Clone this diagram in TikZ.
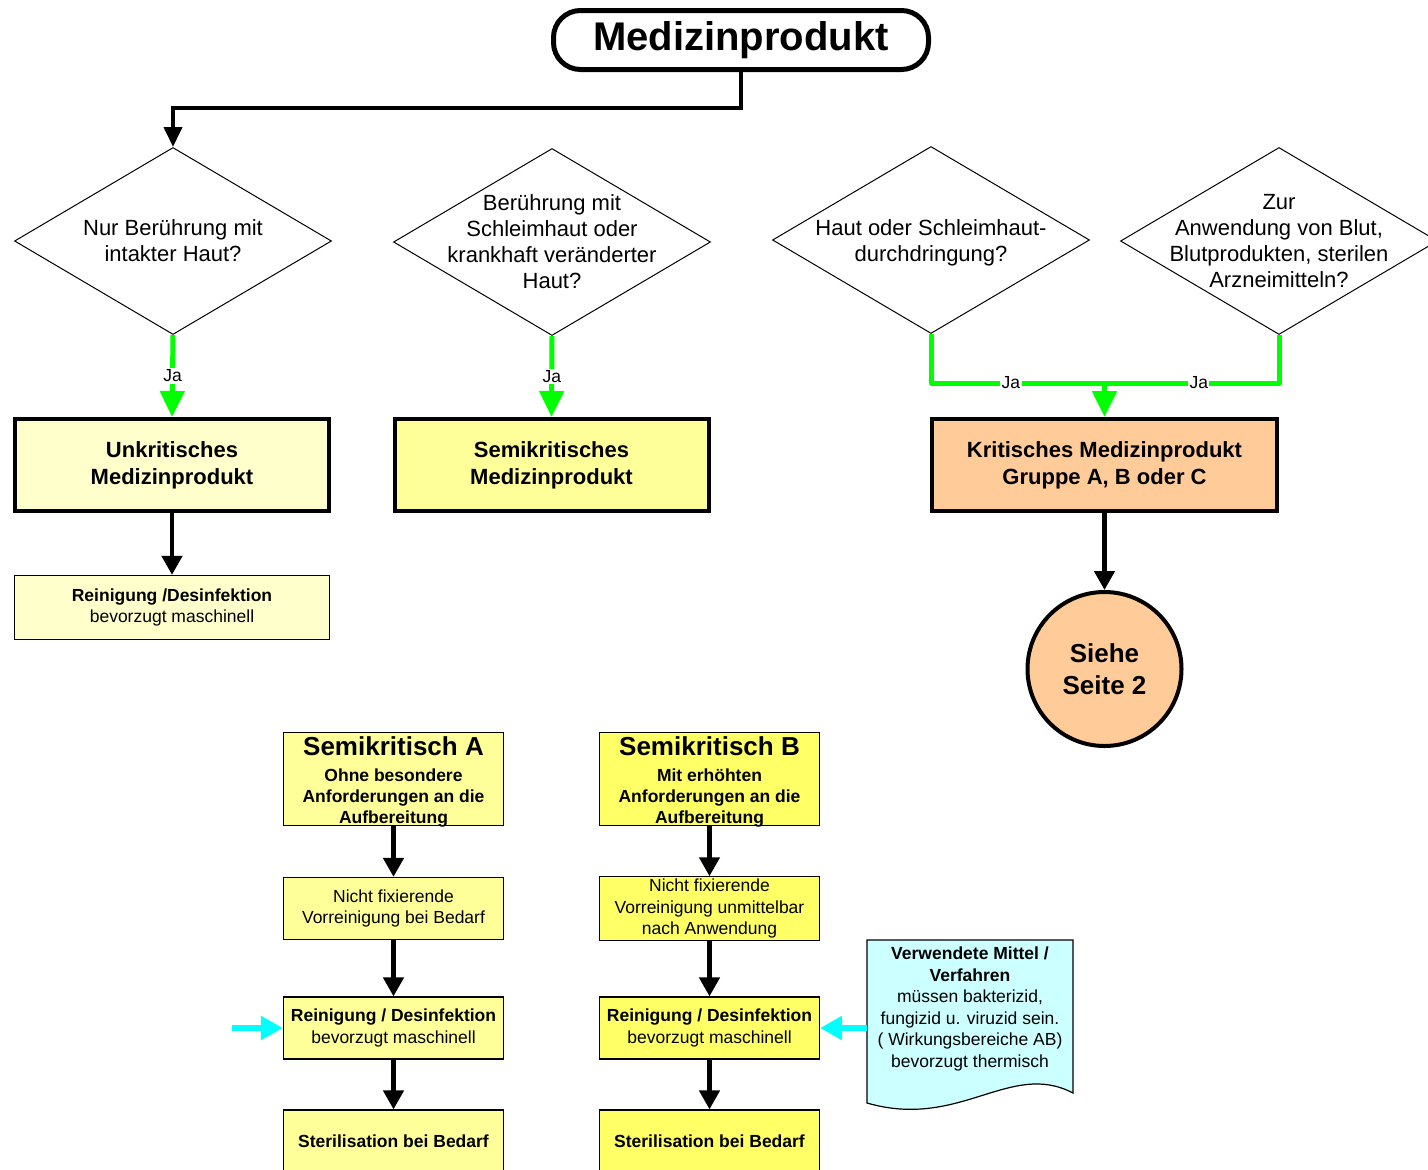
\documentclass[tikz,border=0pt]{standalone}
\usepackage{fontspec}
\setmainfont{Liberation Sans}
\usepackage{tikz}
\definecolor{jagruen}{HTML}{00FF00}
\definecolor{hellblau}{HTML}{00FFFF}
\definecolor{gelb100}{HTML}{FFFFCC}
\definecolor{gelb200}{HTML}{FFFF99}
\definecolor{gelb300}{HTML}{FFFF66}
\definecolor{orange100}{HTML}{FFCC99}
\definecolor{cyan100}{HTML}{CCFFFF}
\usetikzlibrary{arrows.meta,shapes.geometric}
\tikzstyle{frage}=[diamond, draw=black, line width=1pt, minimum width=317pt, minimum height=187pt, inner sep=0pt]
\tikzstyle{fragetext}=[align=center, inner sep=0pt, font=\fontsize{22}{26}\selectfont]
\tikzstyle{klasse}=[rectangle, draw=black, line width=4pt, minimum width=314pt, minimum height=92pt, align=center, font=\bfseries\fontsize{22}{27}\selectfont]
\tikzstyle{schritt}=[rectangle, draw=black, line width=1.2pt, minimum width=220pt, minimum height=62pt, inner sep=2pt, align=center, font=\fontsize{17.5}{21.5}\selectfont]
\tikzstyle{pfeil}=[draw=black, line width=4.5pt, -{Triangle[width=20pt,length=19pt]}]
\tikzstyle{jalinie}=[draw=jagruen, line width=5pt, line join=round]
\tikzstyle{japfeil}=[jalinie, -{Triangle[width=24pt,length=26pt]}]
\tikzstyle{zupfeil}=[draw=hellblau, line width=6pt, -{Triangle[width=23pt,length=22pt]}]
\tikzstyle{ja}=[fill=white, inner sep=1.5pt, font=\fontsize{17.5}{17.5}\selectfont]

\begin{document}
\begin{tikzpicture}[x=1pt, y=-1pt]
			\useasboundingbox[fill=white] (0,0) rectangle (1428,1170);
			\node[rectangle, rounded corners=27pt, draw=black, line width=5pt, fill=white, minimum width=375pt, minimum height=59pt, font=\bfseries\fontsize{40}{40}\selectfont] (titel) at (741,40) {Medizinprodukt};
			\node[frage] (d1) at (173,241) {};
			\node[frage] (d2) at (552,242) {};
			\node[frage] (d3) at (931,240) {};
			\node[frage] (d4) at (1279,241) {};
			\node[fragetext] (d1text) at (d1) {Nur Berührung mit\\intakter Haut?};
			\node[fragetext] (d2text) at (d2) {Berührung mit\\Schleimhaut oder\\krankhaft veränderter\\Haut?};
			\node[fragetext, yshift=-3pt] (d3text) at (d3) {Haut oder Schleimhaut-\\durchdringung?};
			\node[fragetext] (d4text) at (d4) {Zur\\Anwendung von Blut,\\Blutprodukten, sterilen\\Arzneimitteln?};
			\node[klasse, fill=gelb100] (unkrit) at (172,465) {Unkritisches\\Medizinprodukt};
			\node[klasse, fill=gelb200] (semi) at (551.5,465) {Semikritisches\\Medizinprodukt};
			\node[klasse, fill=orange100, minimum width=345pt] (krit) at (1104.5,465) {Kritisches Medizinprodukt\\Gruppe A, B oder C};
			\node[schritt, fill=gelb100, minimum width=315pt, minimum height=64pt] (rein1) at (172,607.5) {\textbf{Reinigung /Desinfektion}\\bevorzugt maschinell};
			\node[circle, draw=black, line width=4pt, fill=orange100, minimum size=154pt, align=center, font=\bfseries\fontsize{26}{32}\selectfont] (seite2) at (1104.5,669) {Siehe\\Seite 2};
			\node[schritt, fill=gelb200, minimum height=93pt, font=\bfseries\fontsize{17.5}{21}\selectfont] (semiA) at (393.5,779) {};
			\node[schritt, fill=gelb300, minimum height=93pt, font=\bfseries\fontsize{17.5}{21}\selectfont] (semiB) at (709.5,779) {};
			\node[align=center, inner sep=0pt, yshift=-3pt, font=\bfseries\fontsize{17.5}{21}\selectfont] (semiAtext) at (semiA) {{\fontsize{26}{26}\selectfont Semikritisch A}\\[5pt]Ohne besondere\\Anforderungen an die\\Aufbereitung};
			\node[align=center, inner sep=0pt, yshift=-3pt, font=\bfseries\fontsize{17.5}{21}\selectfont] (semiBtext) at (semiB) {{\fontsize{26}{26}\selectfont Semikritisch B}\\[5pt]Mit erhöhten\\Anforderungen an die\\Aufbereitung};
			\node[schritt, fill=gelb200] (vorA) at (393.5,908.5) {Nicht fixierende\\Vorreinigung bei Bedarf};
			\node[schritt, fill=gelb300] (vorB) at (709.5,908.5) {Nicht fixierende\\Vorreinigung unmittelbar\\nach Anwendung};
			\node[schritt, fill=gelb200] (reinA) at (393.5,1028) {\textbf{Reinigung / Desinfektion}\\bevorzugt maschinell};
			\node[schritt, fill=gelb300] (reinB) at (709.5,1028) {\textbf{Reinigung / Desinfektion}\\bevorzugt maschinell};
			\node[schritt, fill=gelb200, font=\bfseries\fontsize{17.5}{21.5}\selectfont] (sterA) at (393.5,1141) {Sterilisation bei Bedarf};
			\node[schritt, fill=gelb300, font=\bfseries\fontsize{17.5}{21.5}\selectfont] (sterB) at (709.5,1141) {Sterilisation bei Bedarf};
			\path[draw=black, line width=1.2pt, fill=cyan100]
				(867,940) -- (1073,940) -- (1073,1093) .. controls (1010,1060) and (960,1130) .. (867,1103) -- cycle;
			\node[align=center, minimum width=206pt, inner sep=0pt, font=\fontsize{17.5}{21.6}\selectfont] (mittel) at (970,1009) {\textbf{Verwendete Mittel /}\\\textbf{Verfahren}\\müssen bakterizid,\\fungizid u. viruzid sein.\\( Wirkungsbereiche AB)\\bevorzugt thermisch};
			\coordinate (zusammen) at (1104.5,383);
			\coordinate (zuA) at (232,1028);
			\draw[pfeil, line width=4pt, -{Triangle[width=18pt,length=20pt]}] (titel.south) -- ++(0,36) -| (d1.north);
			\draw[japfeil] (d1.south) -- node[ja] (ja1) {Ja} (unkrit.north);
			\draw[japfeil] (d2.south) -- node[ja] (ja2) {Ja} (semi.north);
			\draw[jalinie] (d3.south) |- node[ja, pos=0.73] (ja3) {Ja} (zusammen);
			\draw[jalinie] (d4.south) |- node[ja, pos=0.73] (ja4) {Ja} (zusammen);
			\draw[japfeil] (zusammen) -- (krit.north);
			\draw[pfeil] (unkrit.south) -- (rein1.north);
			\draw[pfeil] (krit.south) -- (seite2.north);
			\draw[pfeil] (semiA.south) -- (vorA.north);
			\draw[pfeil] (vorA.south) -- (reinA.north);
			\draw[pfeil] (reinA.south) -- (sterA.north);
			\draw[pfeil] (semiB.south) -- (vorB.north);
			\draw[pfeil] (vorB.south) -- (reinB.north);
			\draw[pfeil] (reinB.south) -- (sterB.north);
			\draw[zupfeil] (zuA) -- (reinA.west);
			\draw[zupfeil] (mittel.west |- reinB.east) -- (reinB.east);
		\end{tikzpicture}
\end{document}
